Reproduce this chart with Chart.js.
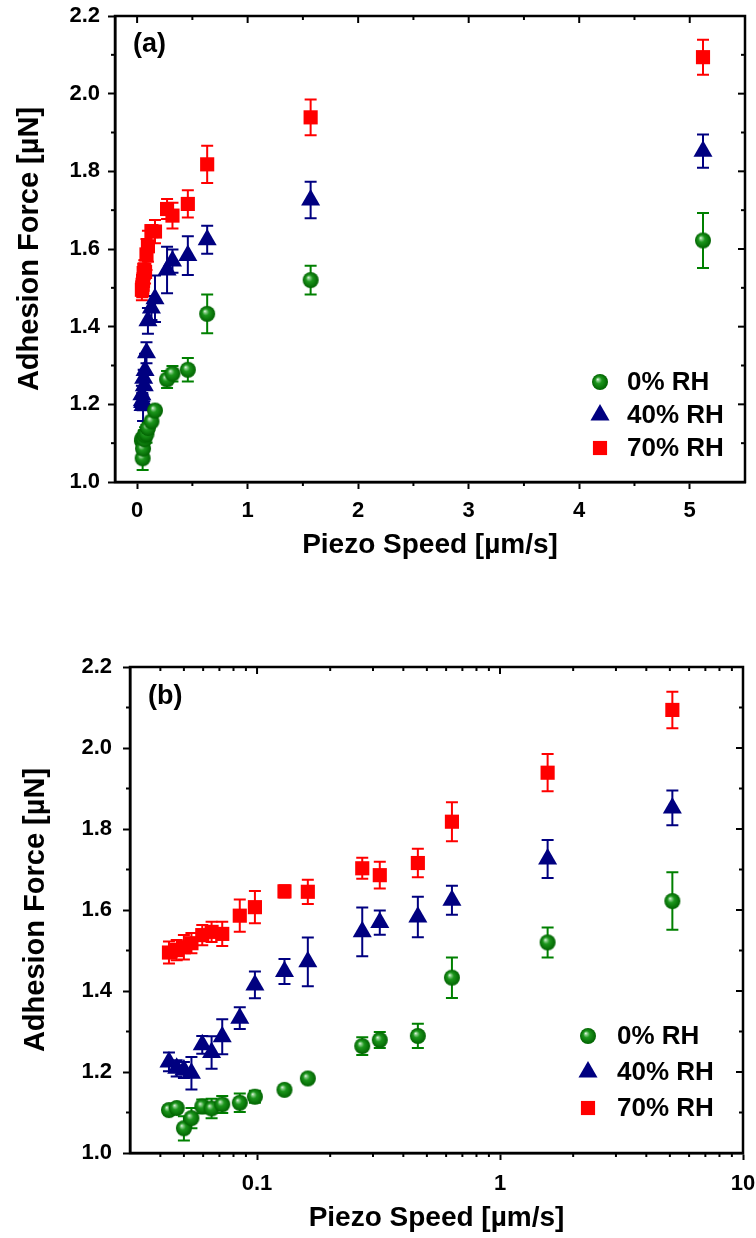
<!DOCTYPE html>
<html>
<head>
<meta charset="utf-8">
<script src="https://cdn.jsdelivr.net/npm/chart.js@4.4.1/dist/chart.umd.min.js"></script>
<style>
  html, body { margin: 0; padding: 0; background: #fff; }
  #wrap { position: relative; width: 756px; height: 1238px; overflow: hidden; }
  canvas { position: absolute; left: 0; }
  #chart_a { top: 0; }
  #chart_b { top: 600px; }
</style>
</head>
<body>
<div id="wrap">
  <canvas id="chart_a" width="756" height="580"></canvas>
  <canvas id="chart_b" width="756" height="638"></canvas>
</div>
<script>
// piezo speeds (um/s), shared by all three humidity runs
const speeds = [0.0434, 0.0467, 0.0500, 0.0537, 0.0595, 0.0650, 0.0719, 0.0849, 0.0980,
                0.1297, 0.1618, 0.271, 0.320, 0.459, 0.634, 1.57, 5.12];

// adhesion force (uN) and its error
const force_0rh  = [1.106, 1.111, 1.061, 1.086, 1.115, 1.110, 1.120, 1.124, 1.139,
                    1.156, 1.184, 1.264, 1.279, 1.289, 1.433, 1.520, 1.622];
const err_0rh    = [0.008, 0.010, 0.030, 0.025, 0.017, 0.024, 0.021, 0.023, 0.015,
                    0.008, 0.008, 0.022, 0.020, 0.030, 0.050, 0.037, 0.071];

const force_40rh = [1.225, 1.209, 1.205, 1.197, 1.267, 1.248, 1.287, 1.333, 1.415,
                    1.448, 1.472, 1.546, 1.569, 1.583, 1.624, 1.726, 1.852];
const err_40rh   = [0.023, 0.020, 0.020, 0.040, 0.022, 0.040, 0.043, 0.027, 0.033,
                    0.031, 0.060, 0.060, 0.030, 0.050, 0.036, 0.047, 0.043];

const force_70rh = [1.495, 1.501, 1.508, 1.518, 1.538, 1.546, 1.541, 1.586, 1.607,
                    1.646, 1.645, 1.703, 1.686, 1.716, 1.818, 1.939, 2.094];
const err_70rh   = [0.027, 0.025, 0.030, 0.025, 0.025, 0.025, 0.030, 0.040, 0.040,
                    0.015, 0.030, 0.026, 0.033, 0.035, 0.048, 0.046, 0.045];

const series_labels = ['0% RH', '40% RH', '70% RH'];

const y_ticks = [1.0, 1.2, 1.4, 1.6, 1.8, 2.0, 2.2];
const y_minor = [1.1, 1.3, 1.5, 1.7, 1.9, 2.1];
const x_ticks_lin = [0, 1, 2, 3, 4, 5];
const x_minor_lin = [0.5, 1.5, 2.5, 3.5, 4.5];
const x_ticks_log = [0.1, 1, 10];
const x_minor_log = [0.04, 0.05, 0.06, 0.07, 0.08, 0.09,
                     0.2, 0.3, 0.4, 0.5, 0.6, 0.7, 0.8, 0.9,
                     2, 3, 4, 5, 6, 7, 8, 9];

const FONT = "'Liberation Sans', Arial, sans-serif";
const GREEN = '#008000', NAVY = '#000080', RED = '#ff0000';

// shaded green ball used as the 0% RH marker
function make_sphere(r) {
	const c = document.createElement('canvas');
	c.width = c.height = 2 * r + 2;
	const g = c.getContext('2d');
	const cx = r + 1, cy = r + 1;
	const grad = g.createRadialGradient(cx - r * 0.3, cy - r * 0.35, 0, cx, cy, r);
	grad.addColorStop(0, '#f4fff4');
	grad.addColorStop(0.16, '#8fd08f');
	grad.addColorStop(0.42, '#1c961c');
	grad.addColorStop(1, '#006200');
	g.fillStyle = grad;
	g.beginPath();
	g.arc(cx, cy, r, 0, Math.PI * 2);
	g.fill();
	return c;
}
const sphere = make_sphere(8);

function make_datasets() {
	const pts = arr => speeds.map((s, i) => ({x: s, y: arr[i]}));
	return [
		{label: series_labels[0], data: pts(force_0rh), errors: err_0rh, pointStyle: sphere,
		 pointRadius: 8, backgroundColor: GREEN, borderColor: GREEN, borderWidth: 0},
		{label: series_labels[1], data: pts(force_40rh), errors: err_40rh, pointStyle: 'triangle',
		 pointRadius: 11, backgroundColor: NAVY, borderColor: NAVY, borderWidth: 0},
		{label: series_labels[2], data: pts(force_70rh), errors: err_70rh, pointStyle: 'rect',
		 pointRadius: 10, backgroundColor: RED, borderColor: RED, borderWidth: 0}
	];
}

const errorbars = {
	id: 'errorbars',
	beforeDatasetsDraw(chart) {
		const {ctx, scales: {x, y}} = chart;
		ctx.save();
		ctx.lineWidth = 2;
		chart.data.datasets.forEach(ds => {
			ctx.strokeStyle = ds.borderColor;
			ds.data.forEach((p, j) => {
				const px = x.getPixelForValue(p.x);
				const hi = y.getPixelForValue(p.y + ds.errors[j]);
				const lo = y.getPixelForValue(p.y - ds.errors[j]);
				ctx.beginPath();
				ctx.moveTo(px, hi); ctx.lineTo(px, lo);
				ctx.moveTo(px - 6, hi); ctx.lineTo(px + 6, hi);
				ctx.moveTo(px - 6, lo); ctx.lineTo(px + 6, lo);
				ctx.stroke();
			});
		});
		ctx.restore();
	}
};

// closed box, mirrored ticks pointing inward, minor ticks, legend and panel tag
const frame = {
	id: 'frame',
	afterDraw(chart, args, opts) {
		const {ctx, chartArea: a, scales: {x, y}} = chart;
		const seg = (x1, y1, x2, y2) => { ctx.beginPath(); ctx.moveTo(x1, y1); ctx.lineTo(x2, y2); ctx.stroke(); };
		ctx.save();
		ctx.strokeStyle = '#000';
		ctx.lineWidth = 2.5;
		ctx.strokeRect(a.left, a.top, a.right - a.left, a.bottom - a.top);
		ctx.lineWidth = 2;
		x.ticks.forEach(t => { const px = x.getPixelForValue(t.value); seg(px, a.top, px, a.top + 7); });
		y.ticks.forEach(t => { const py = y.getPixelForValue(t.value); seg(a.right, py, a.right - 7, py); });
		opts.xMinor.forEach(v => {
			const px = x.getPixelForValue(v);
			seg(px, a.bottom, px, a.bottom + 4);
			seg(px, a.top, px, a.top + 4);
		});
		opts.yMinor.forEach(v => {
			const py = y.getPixelForValue(v);
			seg(a.left, py, a.left - 4, py);
			seg(a.right, py, a.right - 4, py);
		});

		// panel tag
		ctx.fillStyle = '#000';
		ctx.font = 'bold 27px ' + FONT;
		ctx.textBaseline = 'middle';
		ctx.textAlign = 'left';
		ctx.fillText(opts.tag, a.left + opts.tagDx, a.top + opts.tagDy);

		// legend
		const lg = opts.legend;
		ctx.font = 'bold 26px ' + FONT;
		chart.data.datasets.forEach((ds, i) => {
			const mx = a.right - lg.markerDx;
			const my = a.bottom - lg.rowDy + i * lg.step;
			ctx.fillStyle = ds.backgroundColor;
			if (ds.pointStyle === 'triangle') {
				const r = ds.pointRadius;
				ctx.beginPath();
				ctx.moveTo(mx, my - r);
				ctx.lineTo(mx + r * 0.866, my + r / 2);
				ctx.lineTo(mx - r * 0.866, my + r / 2);
				ctx.closePath();
				ctx.fill();
			} else if (ds.pointStyle === 'rect') {
				const h = ds.pointRadius * Math.SQRT1_2;
				ctx.fillRect(mx - h, my - h, 2 * h, 2 * h);
			} else {
				ctx.drawImage(ds.pointStyle, mx - ds.pointStyle.width / 2, my - ds.pointStyle.height / 2);
			}
			ctx.fillStyle = '#000';
			ctx.fillText(ds.label, a.right - lg.textDx, my + 1);
		});
		ctx.restore();
	}
};

function make_chart(canvas_id, cfg) {
	const tick_font = {family: FONT, size: 22, weight: 'bold'};
	const title_font = {family: FONT, size: 28, weight: 'bold', lineHeight: 1};
	const ytitle_font = {family: FONT, size: 29, weight: 'bold', lineHeight: 1};
	return new Chart(document.getElementById(canvas_id), {
		type: 'scatter',
		data: {datasets: make_datasets()},
		options: {
			responsive: false,
			devicePixelRatio: 1,
			animation: false,
			events: [],
			layout: {padding: cfg.padding},
			scales: {
				x: Object.assign({
					position: 'bottom',
					afterBuildTicks: s => { s.ticks = cfg.xTicks.map(v => ({value: v})); },
					afterFit: s => { s.height = cfg.xHeight; s.paddingLeft = 0; s.paddingRight = 0; },
					border: {display: true, color: '#000', width: 2.5},
					grid: {drawOnChartArea: false, drawTicks: true, tickLength: 7, tickWidth: 2, tickColor: '#000'},
					ticks: {color: '#000', font: tick_font, padding: cfg.xTickPad, maxRotation: 0, autoSkip: false,
					        callback: v => String(v)},
					title: {display: true, text: 'Piezo Speed [\u00b5m/s]', color: '#000', font: title_font,
					        padding: {top: 0, bottom: cfg.xTitlePad}}
				}, cfg.xScale),
				y: {
					type: 'linear',
					min: 1.0,
					max: 2.2,
					afterBuildTicks: s => { s.ticks = y_ticks.map(v => ({value: v})); },
					afterFit: s => { s.width = cfg.yWidth; s.paddingTop = 0; s.paddingBottom = 0; },
					border: {display: true, color: '#000', width: 2.5},
					grid: {drawOnChartArea: false, drawTicks: true, tickLength: 7, tickWidth: 2, tickColor: '#000'},
					ticks: {color: '#000', font: tick_font, padding: cfg.yTickPad, callback: v => v.toFixed(1)},
					title: {display: true, text: 'Adhesion Force [\u00b5N]', color: '#000', font: ytitle_font,
					        padding: {top: cfg.yTitlePad, bottom: 0}}
				}
			},
			plugins: {
				legend: {display: false},
				tooltip: {enabled: false},
				frame: cfg.frame
			}
		},
		plugins: [errorbars, frame]
	});
}

// (a) linear speed axis
make_chart('chart_a', {
	padding: {top: 16, right: 6, bottom: 0, left: 0},
	xHeight: 98, yWidth: 115,
	xTickPad: 9, yTickPad: 8, xTitlePad: 21, yTitlePad: 15,
	xTicks: x_ticks_lin,
	xScale: {type: 'linear', min: -0.2, max: 5.5},
	frame: {xMinor: x_minor_lin, yMinor: y_minor, tag: '(a)', tagDx: 18, tagDy: 29,
	        legend: {markerDx: 145, textDx: 118, rowDy: 100, step: 33}}
});

// (b) same data on a log speed axis
make_chart('chart_b', {
	padding: {top: 67, right: 13, bottom: 0, left: 0},
	xHeight: 85, yWidth: 130,
	xTickPad: 11, yTickPad: 11, xTitlePad: 6, yTitlePad: 21,
	xTicks: x_ticks_log,
	xScale: {type: 'logarithmic', min: 0.03, max: 10},
	frame: {xMinor: x_minor_log, yMinor: y_minor, tag: '(b)', tagDx: 18, tagDy: 30,
	        legend: {markerDx: 155, textDx: 126, rowDy: 117, step: 36}}
});
</script>
</body>
</html>
